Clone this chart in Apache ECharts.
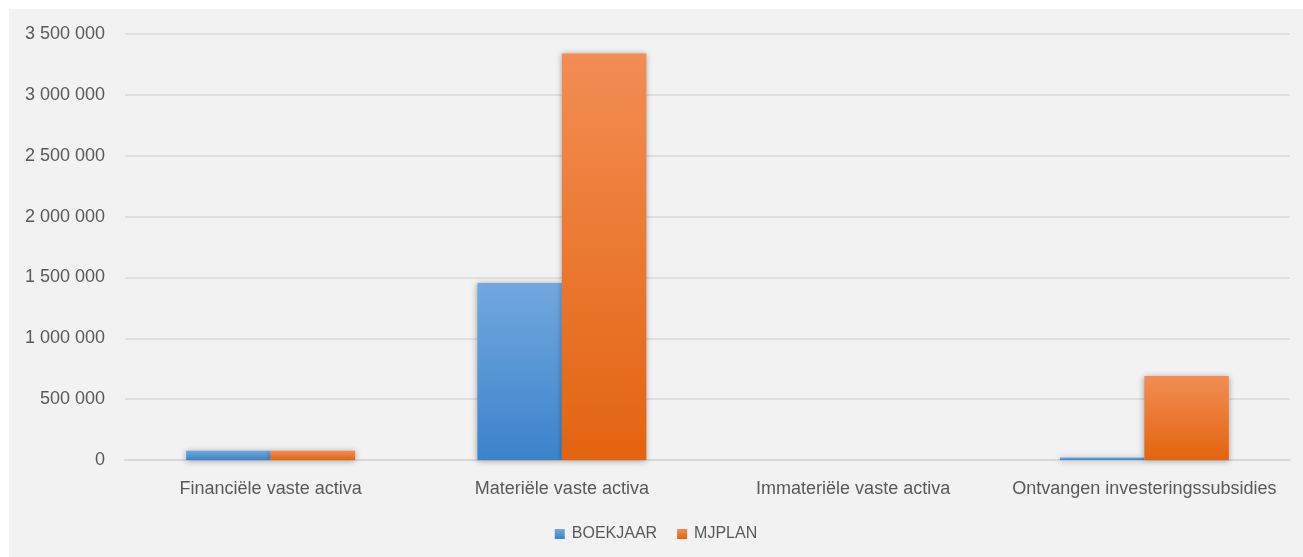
<!DOCTYPE html>
<html>
<head>
<meta charset="utf-8">
<script src="https://cdn.jsdelivr.net/npm/echarts@6/dist/echarts.min.js"></script>
<style>
  html, body { margin: 0; padding: 0; background: #ffffff; }
  #chart { position: absolute; left: 9px; top: 9px; width: 1294px; height: 548px; background: #f2f2f2; }
</style>
</head>
<body>
<div id="chart"></div>
<script>
// categorieën en waarden
var categories = ["Financiële vaste activa", "Materiële vaste activa", "Immateriële vaste activa", "Ontvangen investeringssubsidies"];
var boekjaar = [75000, 1455000, 0, 20000];
var mjplan = [75000, 3340000, 0, 690000];
var seriesNames = ["BOEKJAAR", "MJPLAN"];
var yTicks = [0, 500000, 1000000, 1500000, 2000000, 2500000, 3000000, 3500000];

var fontFam = "'Liberation Sans', 'Noto Sans', sans-serif";

function fmt(v) {
  // spatie als duizendtalscheiding
  return String(v).replace(/\B(?=(\d{3})+(?!\d))/g, " ");
}

function grad(top, bottom) {
  return new echarts.graphic.LinearGradient(0, 0, 0, 1, [
    { offset: 0, color: top },
    { offset: 1, color: bottom }
  ]);
}

var chart = echarts.init(document.getElementById("chart"));
chart.setOption({
  backgroundColor: "transparent",
  animation: false,
  grid: { left: 116, right: 13, top: 25, bottom: 97 },
  legend: {
    data: seriesNames,
    bottom: 10,
    left: "center",
    itemWidth: 10,
    itemHeight: 10,
    itemGap: 20,
    icon: "rect",
    textStyle: { color: "#595959", fontSize: 16, fontFamily: fontFam, padding: [0, 0, 0, 2] }
  },
  xAxis: {
    type: "category",
    data: categories,
    axisLine: { show: true, lineStyle: { color: "#d9d9d9", width: 2 } },
    axisTick: { show: false },
    axisLabel: { color: "#595959", fontSize: 18, fontFamily: fontFam, margin: 20, interval: 0, hideOverlap: false }
  },
  yAxis: {
    type: "value",
    min: yTicks[0],
    max: yTicks[yTicks.length - 1],
    interval: 500000,
    axisLine: { show: false },
    axisTick: { show: false },
    splitLine: { lineStyle: { color: "#d9d9d9", width: 1.5 } },
    axisLabel: { color: "#595959", fontSize: 18, fontFamily: fontFam, margin: 20, formatter: fmt }
  },
  series: [
    {
      name: seriesNames[0],
      type: "bar",
      data: boekjaar,
      barGap: "0%",
      barCategoryGap: "42%",
      itemStyle: {
        color: grad("#72a8dd", "#3b83cb"),
        shadowBlur: 6,
        shadowColor: "rgba(0,0,0,0.35)",
        shadowOffsetY: 1
      }
    },
    {
      name: seriesNames[1],
      type: "bar",
      data: mjplan,
      itemStyle: {
        color: grad("#f28d53", "#e3640f"),
        shadowBlur: 6,
        shadowColor: "rgba(0,0,0,0.35)",
        shadowOffsetY: 1
      }
    }
  ]
});
</script>
</body>
</html>
